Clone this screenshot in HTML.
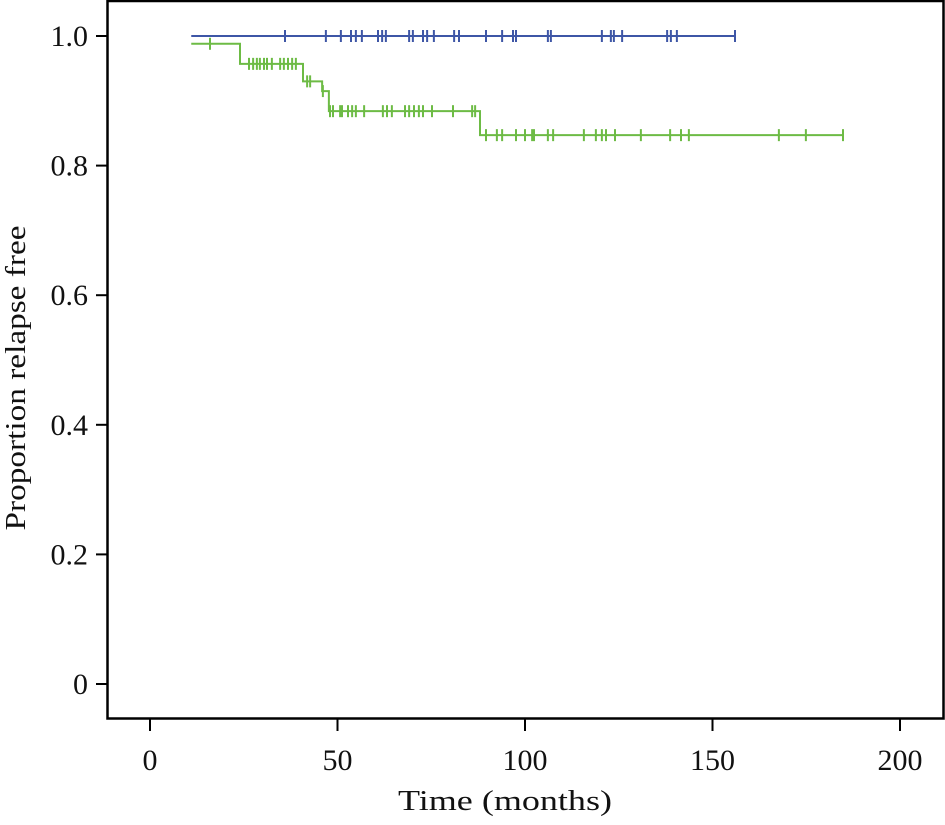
<!DOCTYPE html>
<html><head><meta charset="utf-8"><style>
html,body{margin:0;padding:0;background:#fff}
svg text{font-family:"Liberation Serif",serif;fill:#111}
</style></head><body>
<svg id="chart" width="945" height="820" viewBox="0 0 945 820">
<rect x="107.5" y="1" width="836" height="717.5" fill="none" stroke="#000" stroke-width="2.5"/>
<g id="axes"></g>
<g id="series"></g>
<text x="505" y="810" font-size="29" text-anchor="middle" textLength="214" lengthAdjust="spacingAndGlyphs">Time (months)</text>
<text transform="translate(25,378) rotate(-90)" font-size="29" text-anchor="middle" textLength="305" lengthAdjust="spacingAndGlyphs">Proportion relapse free</text>
</svg>
<script>
const xTicks=[0,50,100,150,200];
const yTicks=[0,0.2,0.4,0.6,0.8,1.0];
const yTickLabels=["0","0.2","0.4","0.6","0.8","1.0"];
const blueStart=11, blueEnd=156, blueSurv=[1.0];
const blueCensor=[36,46.9,50.9,53.6,54.9,56.5,60.8,61.9,62.9,69.1,70.1,72.8,73.9,75.7,81.1,82.4,89.6,93.9,96.8,97.6,106.1,106.9,120.5,122.9,123.7,125.9,137.9,138.9,140.5,156];
const greenStart=11, greenEnd=185, greenInit=0.988;
const greenEventTimes=[24,40.8,45.9,47.7,88];
const greenEventSurv=[0.957,0.930,0.915,0.884,0.847];
const greenCensor=[16,26.4,27.5,28.5,29.3,30.4,31.2,32.5,34.7,35.7,36.8,37.9,38.9,41.9,42.7,46.1,48,48.8,50.7,51.2,52.8,53.9,54.9,57.1,62.1,63.2,64.5,68,69.1,70.4,71.7,72.8,75.2,80.8,85.9,86.7,89.6,92.5,93.9,97.6,100,101.9,102.4,106.1,107.5,115.7,118.9,120.5,121.6,124,130.9,138.7,141.6,143.7,167.7,174.9,184.8];
const X=t=>150+t*3.75, Y=v=>684-v*648;
const NS="http://www.w3.org/2000/svg";
function mk(tag,attrs,parent){const e=document.createElementNS(NS,tag);for(const k in attrs)e.setAttribute(k,attrs[k]);parent.appendChild(e);return e;}
const ax=document.getElementById('axes'), sr=document.getElementById('series');
xTicks.forEach(t=>{
 const l=mk('line',{x1:X(t),x2:X(t),y1:719,y2:731,stroke:'#000','stroke-width':2},ax);
 
 
 const tx=mk('text',{x:X(t),y:770,'font-size':30,'text-anchor':'middle'},ax);tx.textContent=t;
 
 
});
yTicks.forEach((v,i)=>{
 const l=mk('line',{x1:96,x2:107,y1:Y(v),y2:Y(v),stroke:'#000','stroke-width':2},ax);
 
 
 const tx=mk('text',{x:88,y:Y(v)+10,'font-size':30,'text-anchor':'end'},ax);tx.textContent=yTickLabels[i];
 
 
});
function survAt(t,init,times,vals){let s=init;times.forEach((tt,i)=>{if(t>=tt)s=vals[i];});return s;}
function drawSeries(name,color,start,end,init,times,vals,cens){
 let d=`M${X(start)},${Y(init)}`;
 times.forEach((t,i)=>{d+=` H${X(t)} V${Y(vals[i])}`;});
 d+=` H${X(end)}`;
 const p=mk('path',{d:d,fill:'none',stroke:color,'stroke-width':2},sr);
 
 
 cens.forEach(t=>{const v=survAt(t,init,times,vals);
  const c=mk('line',{x1:X(t),x2:X(t),y1:Y(v)-6,y2:Y(v)+6,stroke:color,'stroke-width':2},sr);
  
  
 });
}
drawSeries('green-group','#6dbb45',greenStart,greenEnd,greenInit,greenEventTimes,greenEventSurv,greenCensor);
drawSeries('blue-group','#3e56a6',blueStart,blueEnd,blueSurv[0],[],[],blueCensor);
</script>
</body></html>
